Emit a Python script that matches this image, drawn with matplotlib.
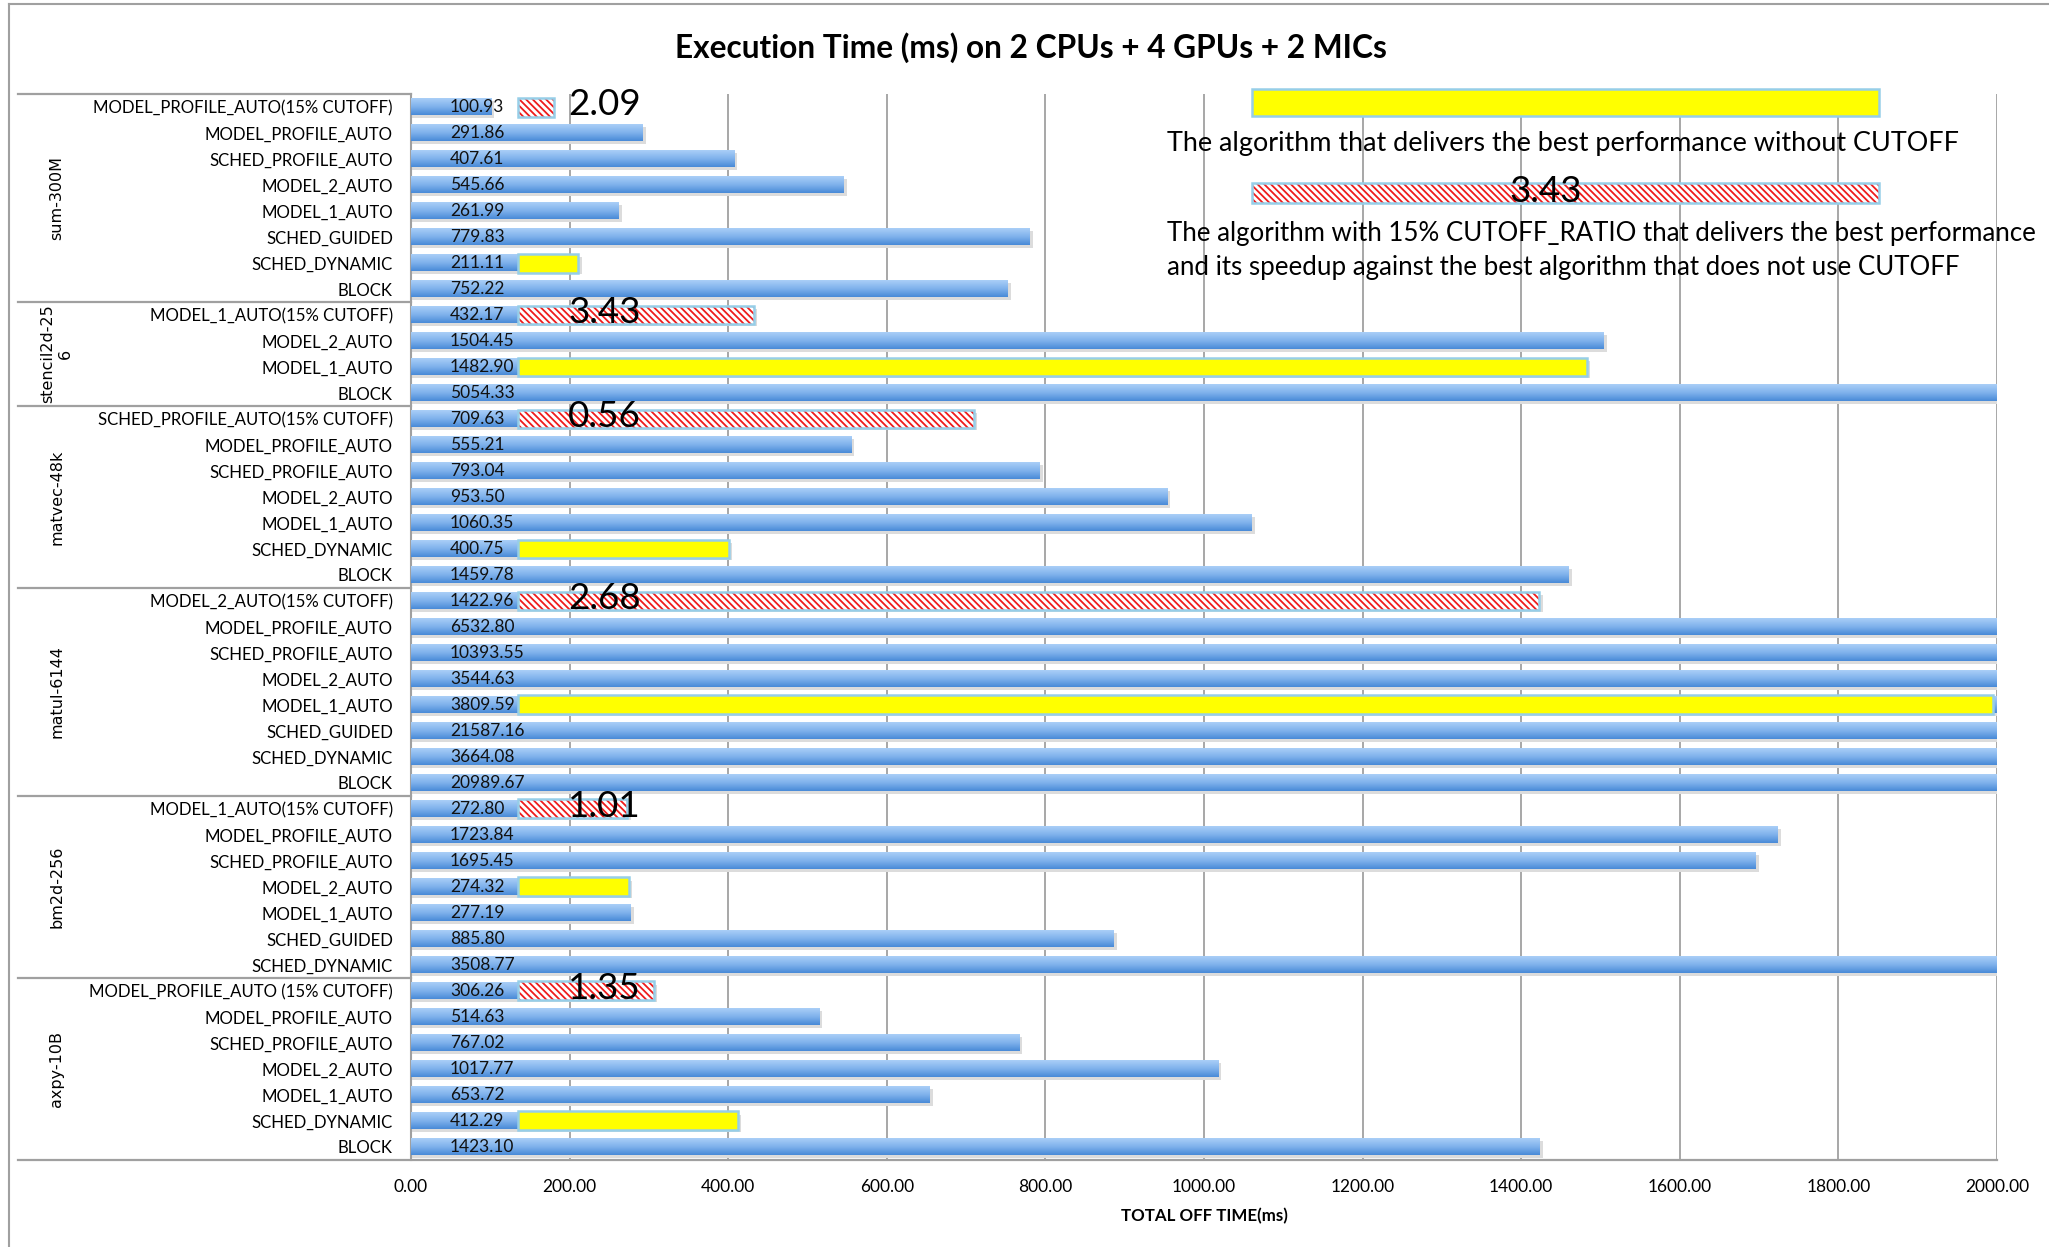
import matplotlib
matplotlib.use("Agg")
import matplotlib.pyplot as plt
import numpy as np
from matplotlib.colors import LinearSegmentedColormap
from matplotlib.patches import Rectangle
from matplotlib.lines import Line2D
import matplotlib.transforms as mtransforms

plt.rcParams['font.family'] = ['Lato', 'DejaVu Sans']
plt.rcParams['hatch.linewidth'] = 1.3

# data, top to bottom, one list per benchmark
groups = ["sum-300M", "stencil2d-25\n6", "matvec-48k", "matul-6144", "bm2d-256", "axpy-10B"]

algs_sum = ["MODEL_PROFILE_AUTO(15% CUTOFF)", "MODEL_PROFILE_AUTO", "SCHED_PROFILE_AUTO",
            "MODEL_2_AUTO", "MODEL_1_AUTO", "SCHED_GUIDED", "SCHED_DYNAMIC", "BLOCK"]
vals_sum = [100.93, 291.86, 407.61, 545.66, 261.99, 779.83, 211.11, 752.22]

algs_stencil = ["MODEL_1_AUTO(15% CUTOFF)", "MODEL_2_AUTO", "MODEL_1_AUTO", "BLOCK"]
vals_stencil = [432.17, 1504.45, 1482.90, 5054.33]

algs_matvec = ["SCHED_PROFILE_AUTO(15% CUTOFF)", "MODEL_PROFILE_AUTO", "SCHED_PROFILE_AUTO",
               "MODEL_2_AUTO", "MODEL_1_AUTO", "SCHED_DYNAMIC", "BLOCK"]
vals_matvec = [709.63, 555.21, 793.04, 953.50, 1060.35, 400.75, 1459.78]

algs_matul = ["MODEL_2_AUTO(15% CUTOFF)", "MODEL_PROFILE_AUTO", "SCHED_PROFILE_AUTO",
              "MODEL_2_AUTO", "MODEL_1_AUTO", "SCHED_GUIDED", "SCHED_DYNAMIC", "BLOCK"]
vals_matul = [1422.96, 6532.80, 10393.55, 3544.63, 3809.59, 21587.16, 3664.08, 20989.67]

algs_bm2d = ["MODEL_1_AUTO(15% CUTOFF)", "MODEL_PROFILE_AUTO", "SCHED_PROFILE_AUTO",
             "MODEL_2_AUTO", "MODEL_1_AUTO", "SCHED_GUIDED", "SCHED_DYNAMIC"]
vals_bm2d = [272.80, 1723.84, 1695.45, 274.32, 277.19, 885.80, 3508.77]

algs_axpy = ["MODEL_PROFILE_AUTO (15% CUTOFF)", "MODEL_PROFILE_AUTO", "SCHED_PROFILE_AUTO",
             "MODEL_2_AUTO", "MODEL_1_AUTO", "SCHED_DYNAMIC", "BLOCK"]
vals_axpy = [306.26, 514.63, 767.02, 1017.77, 653.72, 412.29, 1423.10]

# best non-cutoff row in each group (yellow), cutoff row is always first (red)
best_idx = [6, 2, 5, 4, 3, 5]
speedups = ["2.09", "3.43", "0.56", "2.68", "1.01", "1.35"]

all_algs = [algs_sum, algs_stencil, algs_matvec, algs_matul, algs_bm2d, algs_axpy]
all_vals = [vals_sum, vals_stencil, vals_matvec, vals_matul, vals_bm2d, vals_axpy]

labels = sum(all_algs, [])
values = np.array(sum(all_vals, []))
sizes = [len(a) for a in all_algs]
starts = np.cumsum([0] + sizes[:-1])
n = len(values)
ypos = np.arange(n)

XMAX = 2000
RED = "#EE1C1C"
EDGE = "#96CEE8"
HATCH = "\\" * 5

fig = plt.figure(figsize=(20.49, 12.47), dpi=100)
ax = fig.add_axes([0.2006, 0.0698, 0.7740, 0.8548])

grad = LinearSegmentedColormap.from_list("barblue", ["#A9CEF7", "#80B2EC", "#4A8BD8"])
g = np.linspace(0, 1, 32).reshape(-1, 1)
bh = 0.64
for y, v in zip(ypos, values):
    right = min(v, XMAX)
    # soft shadow under the bar
    ax.add_patch(Rectangle((0, y - bh / 2 + 0.1), right + 4, bh, facecolor="#dcdcdc",
                           edgecolor="none", zorder=2))
    ax.imshow(g, cmap=grad, aspect="auto", origin="upper",
              extent=(0, right, y + bh / 2, y - bh / 2), zorder=3)
    ax.text(49, y, "%.2f" % v, ha="left", va="center", fontsize=12.5, color="#111111", zorder=6)

# highlight overlays
oh = 0.73
ostart = 135
for gi in range(len(groups)):
    r = starts[gi]
    end = min(max(values[r], 180), 1995)
    ax.add_patch(Rectangle((ostart, r - oh / 2), end - ostart, oh, facecolor="white",
                           edgecolor=RED, hatch=HATCH, linewidth=0, zorder=4))
    ax.add_patch(Rectangle((ostart, r - oh / 2), end - ostart, oh, facecolor="none",
                           edgecolor=EDGE, linewidth=1.8, zorder=5))
    ax.text(198, r - 0.08, speedups[gi], ha="left", va="center", fontsize=26.5, zorder=7)
    b = starts[gi] + best_idx[gi]
    end = min(values[b], 1995)
    ax.add_patch(Rectangle((ostart, b - oh / 2), end - ostart, oh, facecolor="#FFFF00",
                           edgecolor=EDGE, linewidth=1.8, zorder=5))

ax.set_xlim(0, XMAX)
ax.set_ylim(n - 0.5, -0.5)
ax.set_xticks(np.arange(0, XMAX + 1, 200))
ax.set_xticklabels(["%.2f" % t for t in np.arange(0, XMAX + 1, 200)], fontsize=12.5)
ax.set_yticks(ypos)
ax.set_yticklabels(labels, fontsize=12.1)
ax.tick_params(axis="both", length=0)
ax.tick_params(axis="y", pad=13)
ax.tick_params(axis="x", pad=14)
ax.set_xlabel("TOTAL OFF TIME(ms)", fontsize=12.2, fontweight="bold", labelpad=9)
ax.grid(axis="x", color="#a0a0a0", linewidth=1.3, zorder=1)
ax.set_axisbelow(True)
for s in ["top", "right", "bottom"]:
    ax.spines[s].set_visible(False)
ax.spines["left"].set_color("#a0a0a0")
ax.spines["left"].set_linewidth(1.5)

# category separators in label area
trans = mtransforms.blended_transform_factory(ax.transAxes, ax.transData)
xl = -0.2478
for b in list(starts) + [n]:
    ax.add_line(Line2D([xl, 1.0 if b == n else 0], [b - 0.5, b - 0.5], transform=trans,
                       color="#a0a0a0", linewidth=1.6, clip_on=False))
for gi, name in enumerate(groups):
    mid = starts[gi] + (sizes[gi] - 1) / 2
    ax.text(-0.2235, mid, name, transform=trans, rotation=90, ha="center", va="center",
            fontsize=11.5, family="DejaVu Sans", multialignment="center")

# title
fig.text(0.503, 0.962, "Execution Time (ms) on 2 CPUs + 4 GPUs + 2 MICs", ha="center",
         va="center", fontsize=22.8, fontweight="bold")

# legend explanation
fig.patches.append(Rectangle((0.611, 0.907), 0.306, 0.0217, transform=fig.transFigure,
                             facecolor="#FFFF00", edgecolor=EDGE, linewidth=1.8))
fig.text(0.5696, 0.885, "The algorithm that delivers the best performance without CUTOFF",
         ha="left", va="center", fontsize=19.45)
fig.patches.append(Rectangle((0.611, 0.8372), 0.306, 0.016, transform=fig.transFigure,
                             facecolor="white", edgecolor=RED, hatch=HATCH, linewidth=0))
fig.patches.append(Rectangle((0.611, 0.8372), 0.306, 0.016, transform=fig.transFigure,
                             facecolor="none", edgecolor=EDGE, linewidth=1.8))
fig.text(0.7545, 0.8465, "3.43", ha="center", va="center", fontsize=26.5)
fig.text(0.5696, 0.8128, "The algorithm with 15% CUTOFF_RATIO that delivers the best performance",
         ha="left", va="center", fontsize=18.6)
fig.text(0.5696, 0.7855, "and its speedup against the best algorithm that does not use CUTOFF",
         ha="left", va="center", fontsize=18.6)

# chart area border
fig.add_artist(Line2D([0.0044, 0.0044], [0, 0.997], transform=fig.transFigure,
                      color="#a0a0a0", linewidth=1.5))
fig.add_artist(Line2D([0.0044, 1], [0.997, 0.997], transform=fig.transFigure,
                      color="#a0a0a0", linewidth=1.5))

fig.savefig("out.png", dpi=100)
